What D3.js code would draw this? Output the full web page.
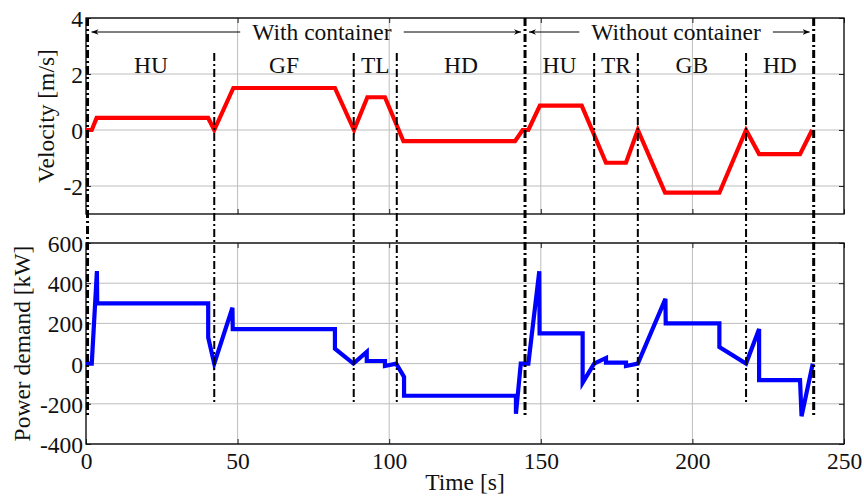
<!DOCTYPE html>
<html>
<head>
<meta charset="utf-8">
<script src="https://cdn.jsdelivr.net/npm/d3@7"></script>
<style>
  html, body { margin: 0; padding: 0; background: #fff; }
  svg { display: block; font-family: "Liberation Serif", "Times New Roman", serif; }
  svg text { font-family: "Liberation Serif", "Times New Roman", serif !important; }
</style>
</head>
<body>
<svg id="chart" width="864" height="496"></svg>
<script>
// Velocity profile of the duty cycle (time in s, velocity in m/s)
const velTime = [0, 1.9, 3.5, 40.3, 42.3, 48.6, 82.1, 88.4, 92.8, 98.6, 104.7, 141.5, 144.0, 145.9, 149.7, 163.5, 171.5, 178.1, 182.0, 191.0, 208.9, 217.7, 222.0, 235.5, 239.5];
const velValue = [0, 0, 0.43, 0.43, 0, 1.5, 1.5, 0, 1.17, 1.17, -0.4, -0.4, 0, 0, 0.87, 0.87, -1.17, -1.17, 0, -2.24, -2.24, 0, -0.86, -0.86, 0];

// Power demand over the same cycle (time in s, power in kW)
const powTime = [0, 1.9, 3.6, 3.7, 40.3, 40.3, 42.3, 48.3, 48.4, 82.1, 82.1, 88.2, 92.6, 92.6, 98.6, 98.6, 102.3, 104.9, 104.9, 141.8, 141.8, 143.4, 145.9, 149.5, 149.6, 163.8, 163.8, 167.6, 171.5, 171.5, 178.1, 178.1, 182.0, 191.1, 191.2, 208.9, 208.9, 217.7, 222.0, 222.0, 235.5, 236.0, 239.7];
const powValue = [0, 0, 460, 300, 300, 130, 0, 278, 172, 172, 74, 0, 58, 13, 13, -12, 0, -66, -160, -160, -250, 0, 0, 460, 150, 150, -95, 0, 28, 5, 5, -12, 0, 322, 200, 200, 82, 0, 172, -82, -82, -262, 0];

// Operation phases and their boundaries
const phaseNames = ["HU", "GF", "TL", "HD", "HU", "TR", "GB", "HD"];
const boundaryTimes = [0.5, 42.3, 88.3, 102.5, 144.8, 167.6, 182.0, 217.7, 240.0];
const boundaryMajor = [true, false, false, false, true, false, false, false, true];

// Load-state groups spanning several phases
const groupNames = ["With container", "Without container"];
const groupStart = [0.5, 144.8];
const groupEnd = [144.8, 240.0];
const groupLabelTime = [77.8, 194.6];

// Axis ticks
const timeTicks = [0, 50, 100, 150, 200, 250];
const velTicks = [-2, 0, 2, 4];
const powTicks = [-400, -200, 0, 200, 400, 600];

const svg = d3.select("#chart");

const x = d3.scaleLinear().domain([0, 250]).range([86, 844]);
const yV = d3.scaleLinear().domain([-3, 4]).range([214, 18]);
const yP = d3.scaleLinear().domain([-400, 600]).range([444, 243]);

const fontFamily = "Liberation Serif";
const fontSize = 23.5;
const gridColor = "#bdbdbd";
const plain = d => String(d); // hyphen-minus, no unicode minus

function panel(y, yTicks, showXLabels) {
  const g = svg.append("g");
  const [x0, x1] = x.range();
  const [yb, yt] = y.range();
  // grid
  g.selectAll(".hg").data(yTicks).join("line")
    .attr("x1", x0).attr("x2", x1)
    .attr("y1", d => y(d)).attr("y2", d => y(d))
    .attr("stroke", gridColor).attr("stroke-width", 1);
  g.selectAll(".vg").data(timeTicks.slice(1, -1)).join("line")
    .attr("x1", d => x(d)).attr("x2", d => x(d))
    .attr("y1", yt).attr("y2", yb)
    .attr("stroke", gridColor).attr("stroke-width", 1);
  // inward ticks on all sides
  const tl = 5;
  const axB = d3.axisBottom(x).tickValues(timeTicks).tickSizeInner(-tl).tickSizeOuter(0)
    .tickFormat(showXLabels ? plain : () => "");
  const axT = d3.axisTop(x).tickValues(timeTicks).tickSizeInner(-tl).tickSizeOuter(0).tickFormat(() => "");
  const axL = d3.axisLeft(y).tickValues(yTicks).tickSizeInner(-tl).tickSizeOuter(0).tickFormat(plain);
  const axR = d3.axisRight(y).tickValues(yTicks).tickSizeInner(-tl).tickSizeOuter(0).tickFormat(() => "");
  const styleAxis = sel => {
    sel.attr("font-family", fontFamily).attr("font-size", fontSize);
    sel.select(".domain").remove();
    sel.selectAll("line").attr("stroke", "#222").attr("stroke-width", 1);
    sel.selectAll("text").attr("font-size", fontSize).attr("font-family", fontFamily).attr("fill", "#111");
  };
  g.append("g").attr("transform", `translate(0,${yb})`).call(axB).call(styleAxis)
    .selectAll("text").attr("dy", "0.71em").attr("y", 8);
  g.append("g").attr("transform", `translate(0,${yt})`).call(axT).call(styleAxis);
  g.append("g").attr("transform", `translate(${x0},0)`).call(axL).call(styleAxis)
    .selectAll("text").attr("x", -3).attr("dy", "0.36em");
  g.append("g").attr("transform", `translate(${x1},0)`).call(axR).call(styleAxis);
  // box
  g.append("rect").attr("x", x0).attr("y", yt).attr("width", x1 - x0).attr("height", yb - yt)
    .attr("fill", "none").attr("stroke", "#111").attr("stroke-width", 1.4);
  return g;
}

panel(yV, velTicks, false);
panel(yP, powTicks, true);

// data lines
const vel = velTime.map((t, i) => [t, velValue[i]]);
const pow = powTime.map((t, i) => [t, powValue[i]]);

svg.append("path").datum(vel)
  .attr("d", d3.line().x(d => x(d[0])).y(d => yV(d[1])))
  .attr("fill", "none").attr("stroke", "#ff0000").attr("stroke-width", 4.2)
  .attr("stroke-linejoin", "miter");

svg.append("path").datum(pow)
  .attr("d", d3.line().x(d => x(d[0])).y(d => yP(d[1])))
  .attr("fill", "none").attr("stroke", "#0000ff").attr("stroke-width", 4.2)
  .attr("stroke-linejoin", "miter");

// phase boundaries (dash-dot)
svg.append("g").selectAll("line").data(boundaryTimes).join("line")
  .attr("x1", d => x(d)).attr("x2", d => x(d))
  .attr("y1", (d, i) => boundaryMajor[i] ? yV(4) : yV(2.75))
  .attr("y2", (d, i) => boundaryMajor[i] ? yP(-260) : yP(-200))
  .attr("stroke", "#000")
  .attr("stroke-width", (d, i) => boundaryMajor[i] ? 3 : 2)
  .attr("stroke-dasharray", "8,3,2,3");

// phase labels
svg.append("g").selectAll("text").data(phaseNames).join("text")
  .attr("x", (d, i) => x((boundaryTimes[i] + boundaryTimes[i + 1]) / 2))
  .attr("y", yV(2) - 1)
  .attr("text-anchor", "middle")
  .attr("font-size", fontSize).attr("fill", "#111")
  .text(d => d);

// group arrows
const defs = svg.append("defs");
defs.append("marker").attr("id", "arrow").attr("viewBox", "0 0 10 10")
  .attr("refX", 10).attr("refY", 5).attr("markerWidth", 7).attr("markerHeight", 7)
  .attr("markerUnits", "userSpaceOnUse").attr("orient", "auto-start-reverse")
  .append("path").attr("d", "M0,1 L10,5 L0,9 L3,5 Z").attr("fill", "#000");

const arrowY = yV(3.5);
groupNames.forEach((name, i) => {
  const txt = svg.append("text")
    .attr("x", x(groupLabelTime[i])).attr("y", arrowY + 7.5)
    .attr("text-anchor", "middle").attr("font-size", fontSize).attr("fill", "#111")
    .text(name);
  const bb = txt.node().getBBox();
  const gap = 12;
  svg.append("line")
    .attr("x1", bb.x - gap).attr("x2", x(groupStart[i]) + 4)
    .attr("y1", arrowY).attr("y2", arrowY)
    .attr("stroke", "#000").attr("stroke-width", 1)
    .attr("marker-end", "url(#arrow)");
  svg.append("line")
    .attr("x1", bb.x + bb.width + gap).attr("x2", x(groupEnd[i]) - 4)
    .attr("y1", arrowY).attr("y2", arrowY)
    .attr("stroke", "#000").attr("stroke-width", 1)
    .attr("marker-end", "url(#arrow)");
});

// axis titles
svg.append("text")
  .attr("transform", `translate(54,${(yV(4) + yV(-3)) / 2}) rotate(-90)`)
  .attr("text-anchor", "middle").attr("font-size", fontSize).attr("fill", "#111")
  .text("Velocity [m/s]");
svg.append("text")
  .attr("transform", `translate(30,${(yP(600) + yP(-400)) / 2}) rotate(-90)`)
  .attr("text-anchor", "middle").attr("font-size", fontSize).attr("fill", "#111")
  .text("Power demand [kW]");
svg.append("text")
  .attr("x", (x(0) + x(250)) / 2).attr("y", 490)
  .attr("text-anchor", "middle").attr("font-size", fontSize).attr("fill", "#111")
  .text("Time [s]");
</script>
</body>
</html>
